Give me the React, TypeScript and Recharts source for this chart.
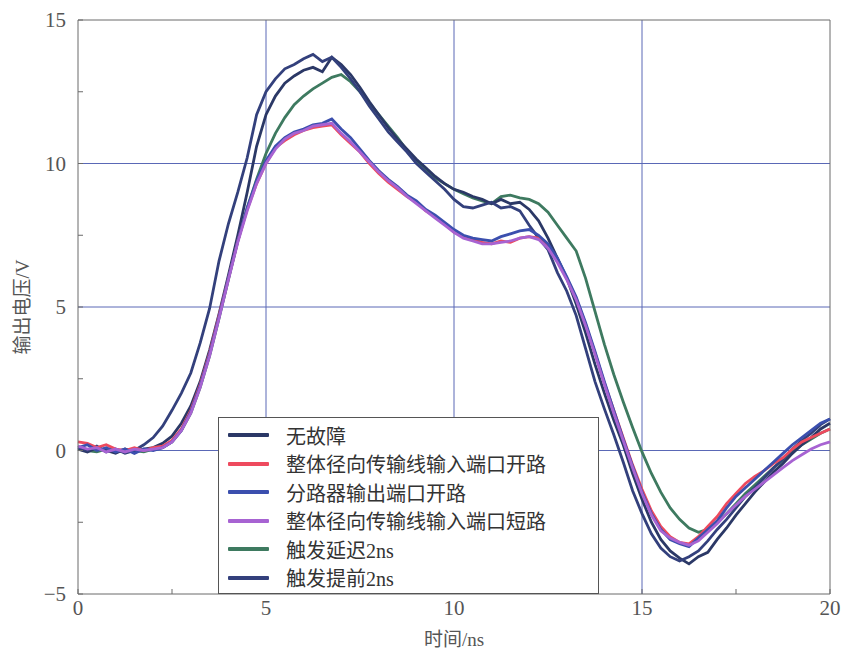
import { LineChart, Line, XAxis, YAxis, ReferenceLine } from "recharts";

// time axis, ns
const time = [
  0, 0.25, 0.5, 0.75, 1, 1.25, 1.5, 1.75, 2, 2.25, 2.5, 2.75, 3, 3.25, 3.5, 3.75,
  4, 4.25, 4.5, 4.75, 5, 5.25, 5.5, 5.75, 6, 6.25, 6.5, 6.75, 7, 7.25, 7.5, 7.75,
  8, 8.25, 8.5, 8.75, 9, 9.25, 9.5, 9.75, 10, 10.25, 10.5, 10.75, 11, 11.25, 11.5, 11.75,
  12, 12.25, 12.5, 12.75, 13, 13.25, 13.5, 13.75, 14, 14.25, 14.5, 14.75, 15, 15.25, 15.5, 15.75,
  16, 16.25, 16.5, 16.75, 17, 17.25, 17.5, 17.75, 18, 18.25, 18.5, 18.75, 19, 19.25, 19.5, 19.75, 20,
];

const noFault = [
  0.05, -0.05, 0.1, 0.0, -0.1, 0.05, -0.05, 0.05, 0.1, 0.25, 0.5, 0.95, 1.55, 2.4, 3.5, 4.75,
  6.1, 7.5, 9.0, 10.6, 11.7, 12.35, 12.8, 13.05, 13.25, 13.35, 13.2, 13.7, 13.45, 13.1, 12.65, 12.15,
  11.7, 11.25, 10.85, 10.5, 10.15, 9.85, 9.55, 9.3, 9.1, 9.0, 8.85, 8.75, 8.6, 8.75, 8.6, 8.65,
  8.4, 8.0, 7.4, 6.7, 6.0, 5.1, 4.1, 3.0, 2.0, 1.05, 0.2, -0.8, -1.7, -2.5, -3.1, -3.5,
  -3.75, -3.95, -3.7, -3.55, -3.1, -2.7, -2.25, -1.85, -1.45, -1.1, -0.75, -0.45, -0.1, 0.2, 0.45, 0.75, 0.95,
];

const inputOpen = [
  0.3, 0.25, 0.1, 0.2, 0.05, 0.0, 0.1, 0.0, 0.1, 0.15, 0.35, 0.75, 1.4, 2.3, 3.4, 4.7,
  6.0, 7.3, 8.4, 9.3, 10.0, 10.55, 10.8, 11.0, 11.15, 11.25, 11.3, 11.35, 11.0, 10.7, 10.4, 10.0,
  9.65, 9.35, 9.1, 8.85, 8.65, 8.35, 8.15, 7.9, 7.6, 7.45, 7.35, 7.25, 7.2, 7.3, 7.25, 7.4,
  7.45, 7.4, 7.1, 6.6, 6.0, 5.3, 4.4, 3.4, 2.35, 1.4, 0.45, -0.5, -1.35, -2.1, -2.65, -3.0,
  -3.2, -3.25, -3.0, -2.65, -2.3, -1.85, -1.5, -1.15, -0.9, -0.7, -0.45, -0.25, 0.05, 0.3, 0.45, 0.6, 0.75,
];

const splitterOpen = [
  0.1, 0.2, 0.0, 0.1, -0.05, 0.05, -0.1, 0.05, 0.0, 0.1, 0.3, 0.7, 1.35, 2.25, 3.35, 4.65,
  6.0, 7.3, 8.45, 9.4, 10.1, 10.6, 10.9, 11.1, 11.2, 11.35, 11.4, 11.55, 11.2, 10.9, 10.5, 10.1,
  9.75, 9.45, 9.2, 8.9, 8.7, 8.4, 8.2, 7.95, 7.7, 7.5, 7.4, 7.35, 7.3, 7.45, 7.55, 7.65,
  7.7, 7.5, 7.2, 6.7, 6.05, 5.35, 4.45, 3.45, 2.4, 1.4, 0.4, -0.55, -1.45, -2.2, -2.75, -3.1,
  -3.25, -3.35, -3.05, -2.75, -2.45, -2.0, -1.6, -1.3, -1.0, -0.7, -0.4, -0.1, 0.2, 0.45, 0.7, 0.95, 1.1,
];

const inputShort = [
  0.15, 0.05, 0.1, -0.05, 0.05, -0.05, 0.05, 0.0, 0.05, 0.1, 0.3, 0.7, 1.3, 2.2, 3.3, 4.6,
  5.95, 7.25, 8.35, 9.3, 10.0, 10.5, 10.85, 11.05, 11.15, 11.3, 11.35, 11.4, 11.05, 10.75, 10.4, 10.05,
  9.7, 9.4, 9.15, 8.85, 8.6, 8.35, 8.1, 7.85, 7.6, 7.4, 7.3, 7.2, 7.2, 7.25, 7.3, 7.4,
  7.45, 7.35, 7.05, 6.55, 5.95, 5.25, 4.35, 3.35, 2.3, 1.3, 0.35, -0.6, -1.5, -2.25, -2.8, -3.05,
  -3.2, -3.3, -3.15, -2.85, -2.55, -2.2, -1.9, -1.6, -1.35, -1.1, -0.85, -0.6, -0.35, -0.15, 0.05, 0.2, 0.3,
];

const triggerDelay = [
  0.05, 0.0, -0.05, 0.05, 0.0, -0.05, 0.0, -0.05, 0.05, 0.1, 0.3, 0.7, 1.3, 2.2, 3.3, 4.6,
  5.95, 7.3, 8.45, 9.45, 10.35, 11.05, 11.6, 12.05, 12.35, 12.6, 12.8, 13.0, 13.1, 12.85, 12.5, 12.1,
  11.7, 11.3, 10.9, 10.45, 10.1, 9.8, 9.5, 9.3, 9.1, 8.95, 8.8, 8.7, 8.6, 8.85, 8.9, 8.8,
  8.75, 8.6, 8.3, 7.85, 7.4, 6.95, 6.0, 4.85, 3.7, 2.65, 1.7, 0.8, -0.05, -0.8, -1.45, -2.0,
  -2.4, -2.7, -2.85, -2.75, -2.5, -2.2, -1.85, -1.5, -1.2, -0.9, -0.6, -0.35, -0.05, 0.2, 0.4, 0.6, 0.75,
];

const triggerEarly = [
  0.1, 0.0, 0.15, -0.05, 0.05, -0.1, 0.0, 0.2, 0.45, 0.85, 1.4, 2.0, 2.7, 3.75, 4.95, 6.6,
  7.9, 9.0, 10.2, 11.7, 12.5, 12.95, 13.3, 13.45, 13.65, 13.8, 13.55, 13.7, 13.35, 12.95, 12.5, 12.0,
  11.55, 11.1, 10.75, 10.4, 10.0, 9.7, 9.4, 9.1, 8.75, 8.5, 8.45, 8.55, 8.65, 8.45, 8.5, 8.35,
  7.85, 7.4, 7.0, 6.2, 5.55, 4.7, 3.55, 2.4, 1.45, 0.55, -0.4, -1.4, -2.2, -2.9, -3.4, -3.7,
  -3.85, -3.7, -3.5, -3.15, -2.75, -2.4, -2.0, -1.6, -1.3, -0.95, -0.6, -0.3, 0.05, 0.35, 0.6, 0.9, 1.1,
];

const xTicks = [0, 2.5, 5, 7.5, 10, 12.5, 15, 17.5, 20];
const yTicks = [-5, -2.5, 0, 2.5, 5, 7.5, 10, 12.5, 15];
const xGrid = [5, 10, 15];
const yGrid = [0, 5, 10];

const series = [
  { key: "noFault", name: "无故障", color: "#2b3866", values: noFault },
  { key: "inputOpen", name: "整体径向传输线输入端口开路", color: "#ee4a5e", values: inputOpen },
  { key: "splitterOpen", name: "分路器输出端口开路", color: "#3b4fae", values: splitterOpen },
  { key: "inputShort", name: "整体径向传输线输入端口短路", color: "#a763d2", values: inputShort },
  { key: "triggerDelay", name: "触发延迟2ns", color: "#3e7a60", values: triggerDelay },
  { key: "triggerEarly", name: "触发提前2ns", color: "#33407c", values: triggerEarly },
];

// draw order (last on top)
const drawOrder = ["triggerDelay", "noFault", "triggerEarly", "inputOpen", "splitterOpen", "inputShort"];

const data = time.map((t, i) => {
  const row: Record<string, number> = { t };
  series.forEach((s) => (row[s.key] = s.values[i]));
  return row;
});

const FONT = "'Liberation Serif', 'Noto Sans CJK SC', serif";
const GRID = "#5a68b6";
const FRAME = "#6a6a6a";

const fmt = (major: number[]) => (v: number) =>
  major.includes(v) ? (v < 0 ? `\u2212${Math.abs(v)}` : `${v}`) : "";

function LegendBox() {
  return (
    <div
      style={{
        position: "absolute",
        left: 218,
        top: 417,
        width: 381,
        height: 177,
        border: "1.5px solid #555",
        background: "#fff",
        boxSizing: "border-box",
        paddingTop: 3,
        fontFamily: FONT,
        fontSize: 20,
        color: "#333",
      }}
    >
      {series.map((s) => (
        <div key={s.key} style={{ display: "flex", alignItems: "center", height: 28.5 }}>
          <span style={{ display: "inline-block", marginLeft: 9, width: 41, height: 4, background: s.color, borderRadius: 1 }} />
          <span style={{ marginLeft: 17, whiteSpace: "nowrap" }}>{s.name}</span>
        </div>
      ))}
    </div>
  );
}

export default function App() {
  return (
    <div style={{ position: "absolute", left: 0, top: 0, width: 845, height: 662, background: "#fff" }}>
      <LineChart width={845} height={662} data={data} margin={{ top: 20, right: 15, bottom: 28, left: 38 }}>
        {xGrid.map((x) => (
          <ReferenceLine key={`gx${x}`} x={x} stroke={GRID} strokeWidth={1} />
        ))}
        {yGrid.map((y) => (
          <ReferenceLine key={`gy${y}`} y={y} stroke={GRID} strokeWidth={1} />
        ))}
        <ReferenceLine y={15} stroke={FRAME} strokeWidth={1} />
        <ReferenceLine x={20} stroke={FRAME} strokeWidth={1} />
        <XAxis
          dataKey="t"
          type="number"
          domain={[0, 20]}
          ticks={xTicks}
          interval={0}
          tickFormatter={fmt([0, 5, 10, 15, 20])}
          tickSize={-5}
          tickMargin={11}
          height={40}
          stroke={FRAME}
          tick={{ fill: "#555", fontSize: 21, fontFamily: FONT }}
          label={{ value: "时间/ns", position: "insideBottom", offset: -12, fill: "#555", fontSize: 19, fontFamily: FONT }}
        />
        <YAxis
          type="number"
          domain={[-5, 15]}
          ticks={yTicks}
          interval={0}
          tickFormatter={fmt([-5, 0, 5, 10, 15])}
          tickSize={-5}
          tickMargin={17}
          width={40}
          stroke={FRAME}
          tick={{ fill: "#555", fontSize: 21, fontFamily: FONT }}
          label={{ value: "输出电压/V", angle: -90, position: "insideLeft", offset: -16, fill: "#555", fontSize: 19, fontFamily: FONT, style: { textAnchor: "middle" } }}
        />
        {drawOrder.map((k) => {
          const s = series.find((x) => x.key === k)!;
          return (
            <Line
              key={s.key}
              dataKey={s.key}
              name={s.name}
              stroke={s.color}
              strokeWidth={2.8}
              dot={false}
              type="linear"
              isAnimationActive={false}
            />
          );
        })}
      </LineChart>
      <LegendBox />
    </div>
  );
}
